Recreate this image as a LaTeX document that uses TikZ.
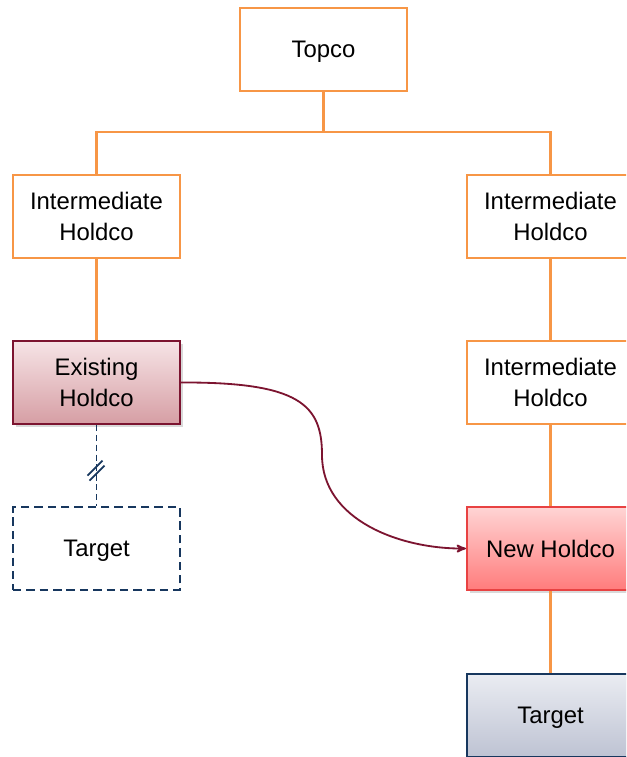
\documentclass[tikz,border=0pt]{standalone}
\usepackage{fontspec}
\setmainfont{Liberation Sans}
\usetikzlibrary{arrows, shadows}
\definecolor{orgline}{RGB}{247,150,70}
\definecolor{exborder}{RGB}{124,20,48}
\definecolor{extop}{RGB}{246,228,230}
\definecolor{exbot}{RGB}{214,158,164}
\definecolor{nwborder}{RGB}{232,66,66}
\definecolor{nwtop}{RGB}{255,212,212}
\definecolor{nwbot}{RGB}{255,124,124}
\definecolor{tgborder}{RGB}{23,55,94}
\definecolor{tgtop}{RGB}{234,236,242}
\definecolor{tgbot}{RGB}{190,195,211}
\tikzstyle{entite} = [draw=orgline, line width=1.5pt, fill=white, minimum width=167*0.025cm, minimum height=83*0.025cm, align=center, font=\fontsize{17}{22}\selectfont, inner sep=0pt, text depth=-8pt]
\tikzstyle{ancien} = [entite, draw=exborder, top color=extop, bottom color=exbot, drop shadow={shadow xshift=2pt, shadow yshift=-2pt, opacity=0.3}]
\tikzstyle{nouveau} = [entite, draw=nwborder, top color=nwtop, bottom color=nwbot, drop shadow={shadow xshift=2pt, shadow yshift=-2pt, opacity=0.3}]
\tikzstyle{cible} = [entite, draw=tgborder, top color=tgtop, bottom color=tgbot, drop shadow={shadow xshift=2pt, shadow yshift=-2pt, opacity=0.3}]
\tikzstyle{ciblecoupee} = [entite, draw=tgborder, line width=1.3pt, dash pattern=on 6pt off 3.5pt]
\tikzstyle{lien} = [draw=orgline, line width=1.5pt]
\tikzstyle{fleche} = [->,>=stealth',line width=1.3pt,draw=exborder]
\begin{document}
\begin{tikzpicture}[x=0.025cm, y=-0.025cm]
	\clip (0,0) rectangle (626,757);

	\node[entite] (TOP) at (323.5,49.5) {Topco};

	\node[entite] (IL) at (96.5,216.5) {Intermediate\\Holdco};
	\node[entite] (IR) at (550.5,216.5) {Intermediate\\Holdco};
	\node[entite] (IR2) at (550.5,382.5) {Intermediate\\Holdco};

	\node[ancien] (EH) at (96.5,382.5) {Existing\\Holdco};
	\node[ciblecoupee] (TL) at (96.5,548.5) {Target};

	\node[nouveau] (NH) at (550.5,548.5) {New Holdco};
	\node[cible] (TR) at (550.5,715.5) {Target};

	\coordinate (bar) at (323.5,132);
	\draw[lien] (TOP) -- (bar);
	\draw[lien] (IL.north) |- (bar) -| (IR.north);

	\draw[lien] (IL) -- (EH);
	\draw[lien] (IR) -- (IR2);
	\draw[lien] (IR2) -- (NH);
	\draw[lien] (NH) -- (TR);

	\draw[draw=tgborder, line width=1.3pt, dash pattern=on 4.5pt off 2.5pt]
		(EH) -- node[pos=0.5] (coupe) {} (TL);
	\draw[draw=tgborder, line width=1.2pt]
		([shift={(-9,10)}]coupe.center) -- ([shift={(6,-5)}]coupe.center)
		([shift={(-7,15)}]coupe.center) -- ([shift={(8,0)}]coupe.center);

	\draw[fleche] (EH.east) .. controls (300,382) and (322,405) .. (322,455)
		.. controls (322,520) and (400,549) .. (NH.west);

\end{tikzpicture}
\end{document}
